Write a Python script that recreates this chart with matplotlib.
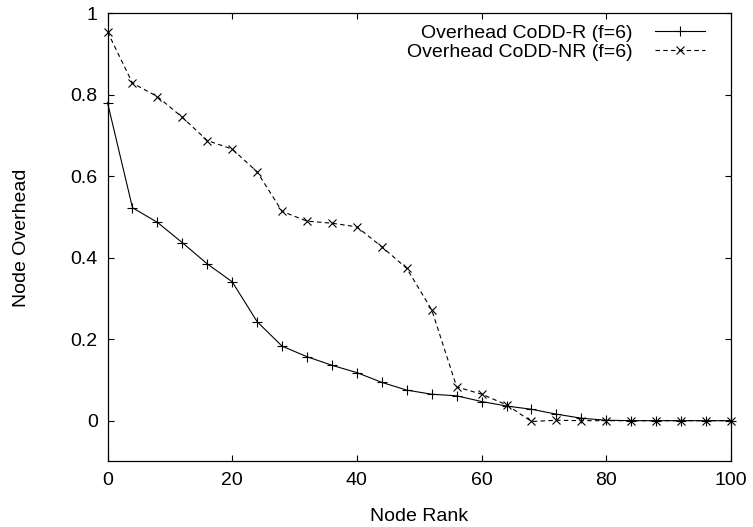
import matplotlib
matplotlib.use("Agg")
import matplotlib.pyplot as plt

plt.rcParams['font.family'] = ['Liberation Sans', 'DejaVu Sans']

rango = list(range(0, 101, 4))

overhead_r = [0.781, 0.523, 0.487, 0.437, 0.385, 0.341, 0.243, 0.183, 0.157,
              0.136, 0.118, 0.094, 0.075, 0.065, 0.061, 0.047, 0.036, 0.028,
              0.016, 0.006, 0.001, 0.0, 0.0, 0.0, 0.0, 0.0]

overhead_nr = [0.955, 0.829, 0.796, 0.745, 0.688, 0.667, 0.611, 0.514, 0.490,
               0.485, 0.476, 0.427, 0.374, 0.272, 0.083, 0.065, 0.039, -0.002,
               0.001, 0.0, 0.0, 0.0, 0.0, 0.0, 0.0, 0.0]

etiquetas = ["Overhead CoDD-R (f=6)", "Overhead CoDD-NR (f=6)"]

fig = plt.figure(figsize=(7.53, 5.27), dpi=100)
ax = fig.add_axes([0.1428, 0.1245, 0.828, 0.8499])

ax.plot(rango, overhead_r, color="black", linewidth=0.8, marker="+",
        markersize=6.5, markeredgewidth=0.8, label=etiquetas[0], clip_on=False)
ax.plot(rango, overhead_nr, color="black", linewidth=0.8, linestyle=(0, (4, 3)),
        marker="x", markersize=5.5, markeredgewidth=0.8, label=etiquetas[1], clip_on=False)

ax.set_xlim(0, 100)
ax.set_ylim(-0.1, 1)
ax.set_xticks([0, 20, 40, 60, 80, 100])
ax.set_yticks([0, 0.2, 0.4, 0.6, 0.8, 1])
ax.set_yticklabels(["0", "0.2", "0.4", "0.6", "0.8", "1"])
ax.tick_params(direction="in", top=True, right=True, length=4.5, width=0.8,
               labelsize=14)
ax.tick_params(axis="x", pad=8)
ax.tick_params(axis="y", pad=7)
for s in ax.spines.values():
    s.set_linewidth(0.9)

ax.set_xlabel("Node Rank", fontsize=14)
ax.set_ylabel("Node Overhead", fontsize=14)
ax.xaxis.set_label_coords(0.5, -0.104)
ax.yaxis.set_label_coords(-0.124, 0.5)

ax.legend(loc="upper right", frameon=False, markerfirst=False, fontsize=14,
          handlelength=2.57, handletextpad=1.15, labelspacing=0.05,
          borderpad=0, borderaxespad=0, bbox_to_anchor=(0.958, 0.975))

fig.savefig("out.png", dpi=100)
